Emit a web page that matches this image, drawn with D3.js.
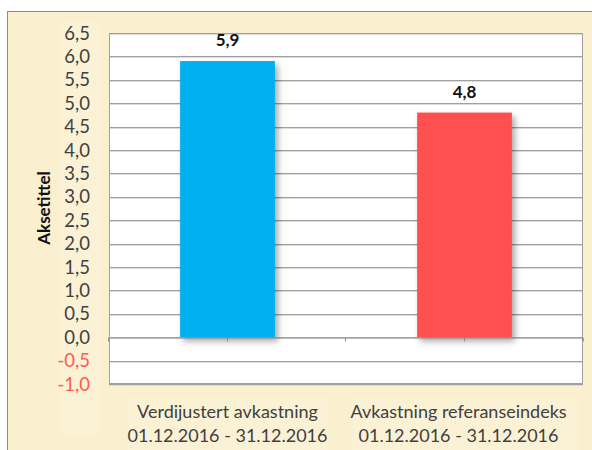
<!DOCTYPE html>
<html>
<head>
<meta charset="utf-8">
<script src="https://cdnjs.cloudflare.com/ajax/libs/d3/7.8.5/d3.min.js"></script>
<style>
  body { margin: 0; background: #fff; }
  text { font-family: Lato, "Open Sans", sans-serif; }
</style>
</head>
<body>
<div id="chart"></div>
<script>
// chart data
const categories = ["Verdijustert avkastning|01.12.2016 - 31.12.2016", "Avkastning referanseindeks|01.12.2016 - 31.12.2016"];
const values = [5.9, 4.8];
const barColors = ["#00b0f0", "#ff5050"];
const yTicks = [-1.0, -0.5, 0.0, 0.5, 1.0, 1.5, 2.0, 2.5, 3.0, 3.5, 4.0, 4.5, 5.0, 5.5, 6.0, 6.5];
const yTitle = "Aksetittel";

function setupChart() {
    const width = 592
    const height = 450
    const plot = { left: 109, top: 33, right: 583, bottom: 384 }

    let svg = d3.select("#chart")
        .append("svg")
        .attr("width", width)
        .attr("height", height)

    // drop shadow for the bars
    let defs = svg.append("defs")
    defs.append("filter")
        .attr("id", "shadow")
        .attr("x", "-20%").attr("y", "-20%").attr("width", "150%").attr("height", "150%")
        .append("feDropShadow")
        .attr("dx", 3).attr("dy", 4)
        .attr("stdDeviation", 3)
        .attr("flood-color", "#000")
        .attr("flood-opacity", 0.35)

    // outer chart frame
    svg.append("rect")
        .attr("x", 7.5).attr("y", 11.5)
        .attr("width", width).attr("height", height)
        .attr("fill", "#faf0cf")
        .attr("stroke", "#8c8c8c")

    // slightly lighter boxes behind the label text
    svg.append("rect")
        .attr("x", 60).attr("y", 22).attr("width", 40).attr("height", 414)
        .attr("fill", "#fbf2d6")
    svg.append("rect")
        .attr("x", 128).attr("y", 398).attr("width", 200).attr("height", 52)
        .attr("fill", "#fbf2d6")
    svg.append("rect")
        .attr("x", 353).attr("y", 398).attr("width", 226).attr("height", 52)
        .attr("fill", "#fbf2d6")

    let y = d3.scaleLinear()
        .domain([-1, 6.5])
        .range([plot.bottom, plot.top])

    let x = d3.scaleBand()
        .domain(categories)
        .range([plot.left, plot.right])
        .padding(0)

    // plot area
    svg.append("rect")
        .attr("x", plot.left).attr("y", plot.top)
        .attr("width", plot.right - plot.left).attr("height", plot.bottom - plot.top)
        .attr("fill", "#fff")

    // gridlines (with a faint shadow line under each)
    let grid = svg.append("g")
    grid.selectAll("line.shade")
        .data(yTicks)
        .enter()
        .append("line")
        .attr("x1", plot.left).attr("x2", plot.right)
        .attr("y1", d => Math.round(y(d)) + 1.5)
        .attr("y2", d => Math.round(y(d)) + 1.5)
        .attr("stroke", "#dcdcdc")
    grid.selectAll("line.main")
        .data(yTicks)
        .enter()
        .append("line")
        .attr("x1", plot.left).attr("x2", plot.right)
        .attr("y1", d => Math.round(y(d)) + 0.5)
        .attr("y2", d => Math.round(y(d)) + 0.5)
        .attr("stroke", "#a0a0a0")

    // plot border
    svg.append("rect")
        .attr("x", plot.left + 0.5).attr("y", plot.top + 0.5)
        .attr("width", plot.right - plot.left - 1).attr("height", plot.bottom - plot.top - 1)
        .attr("fill", "none")
        .attr("stroke", "#a0a0a0")

    // bars
    const barW = x.bandwidth() * 0.4
    svg.selectAll("rect.bar")
        .data(values)
        .enter()
        .append("rect")
        .attr("class", "bar")
        .attr("x", (d, i) => x(categories[i]) + (x.bandwidth() - barW) / 2)
        .attr("y", d => y(d))
        .attr("width", barW)
        .attr("height", d => y(0) - y(d))
        .attr("fill", (d, i) => barColors[i])
        .attr("filter", "url(#shadow)")

    // category axis on the zero line
    let xAxis = d3.axisBottom(x).tickSize(4).tickFormat("")
    let gx = svg.append("g")
        .attr("transform", "translate(0," + (Math.round(y(0)) + 0.5) + ")")
        .call(xAxis)
    gx.select(".domain").attr("stroke", "#a0a0a0")
    gx.selectAll(".tick line").attr("stroke", "#8c8c8c")
    // tick marks at band edges too
    gx.selectAll("line.edge")
        .data(x.domain().map(d => x(d)).concat([plot.right]))
        .enter()
        .append("line")
        .attr("x1", d => d - 0.5).attr("x2", d => d - 0.5)
        .attr("y1", 0).attr("y2", 4)
        .attr("stroke", "#8c8c8c")

    // y tick labels
    svg.selectAll("text.ytick")
        .data(yTicks)
        .enter()
        .append("text")
        .attr("x", 90)
        .attr("y", d => y(d))
        .attr("dy", "0.36em")
        .attr("text-anchor", "end")
        .style("font-size", "18.5px")
        .attr("fill", d => d < 0 ? "#ff5a50" : "#404040")
        .text(d => d3.format(".1f")(d).replace(".", ",").replace("−", "-"))

    // value labels
    svg.selectAll("text.value")
        .data(values)
        .enter()
        .append("text")
        .attr("x", (d, i) => x(categories[i]) + x.bandwidth() / 2)
        .attr("y", d => y(d) - 21)
        .attr("dy", "0.36em")
        .attr("text-anchor", "middle")
        .style("font-size", "17px")
        .style("font-weight", "bold")
        .attr("fill", "#111")
        .text(d => d3.format(".1f")(d).replace(".", ","))

    // category labels (two lines each)
    let cat = svg.selectAll("text.cat")
        .data(categories)
        .enter()
        .append("text")
        .attr("text-anchor", "middle")
        .style("font-size", "18px")
        .attr("fill", "#404040")
        .attr("transform", (d, i) => "translate(" + (x(d) + x.bandwidth() / 2 - (i === 1 ? 6 : 0)) + ",418)")
    cat.selectAll("tspan")
        .data(d => d.split("|"))
        .enter()
        .append("tspan")
        .attr("x", 0)
        .attr("y", (d, i) => i * 24)
        .text(d => d)

    // axis title
    svg.append("text")
        .attr("transform", "translate(50,208) rotate(-90)")
        .attr("text-anchor", "middle")
        .style("font-size", "17px")
        .style("font-weight", "bold")
        .attr("fill", "#111")
        .text(yTitle)

    console.log(`[] chart created`);
}

setupChart();
</script>
</body>
</html>
